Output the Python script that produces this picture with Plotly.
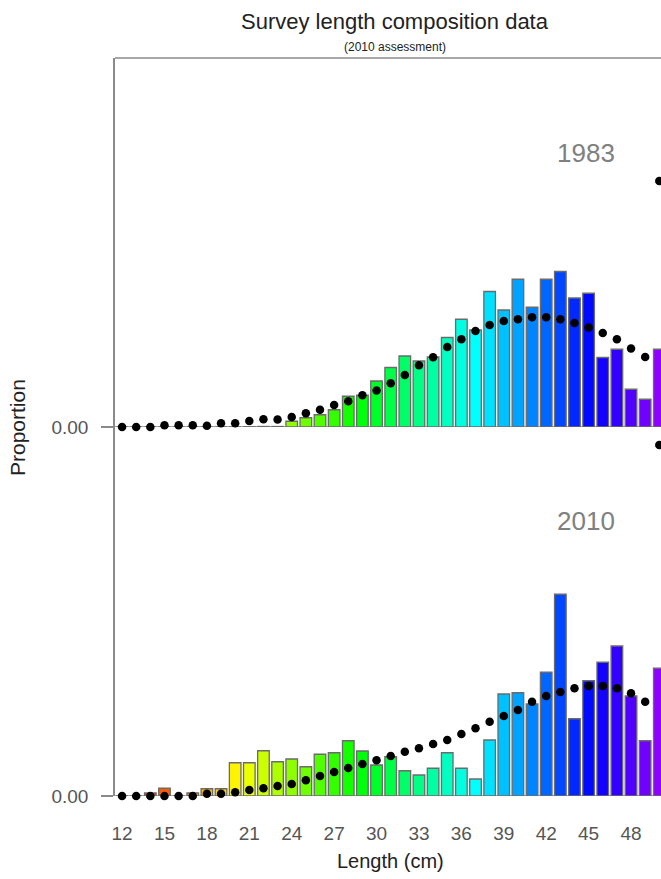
import colorsys
import plotly.graph_objects as go

# Length bins (cm); the last bin is the plus group
lengths = list(range(12, 51))

# 1983 survey: observed proportions (bars) and expected proportions (dots)
obs_1983 = [0, 0, 0, 0, 0, 0, 0, 0, 0, 0.0001, 0.0002, 0.0002, 0.0023, 0.0037,
            0.0049, 0.0069, 0.0123, 0.0127, 0.0184, 0.0238, 0.0284, 0.0264,
            0.0280, 0.0358, 0.0431, 0.0388, 0.0542, 0.0468, 0.0591, 0.0479,
            0.0591, 0.0622, 0.0516, 0.0535, 0.0278, 0.0311, 0.0151, 0.0111,
            0.0311]
exp_1983 = [0, 0, 0, 0.0007, 0.0007, 0.0007, 0.0005, 0.0015, 0.0015, 0.0024,
            0.0031, 0.0030, 0.0040, 0.0055, 0.0069, 0.0088, 0.0103, 0.0127,
            0.0146, 0.0175, 0.0208, 0.0247, 0.0279, 0.0320, 0.0351, 0.0384,
            0.0408, 0.0424, 0.0431, 0.0439, 0.0439, 0.0431, 0.0416, 0.0398,
            0.0376, 0.0351, 0.0314, 0.0280, 0.0984]

# 2010 survey
obs_2010 = [0, 0, 0.0012, 0.0031, 0, 0.0012, 0.0029, 0.0029, 0.0133, 0.0133,
            0.0181, 0.0137, 0.0148, 0.0117, 0.0167, 0.0173, 0.0221, 0.0180,
            0.0124, 0.0157, 0.0101, 0.0084, 0.0111, 0.0173, 0.0111, 0.0068,
            0.0224, 0.0408, 0.0413, 0.0368, 0.0495, 0.0807, 0.0309, 0.0461,
            0.0535, 0.0600, 0.0400, 0.0221, 0.0511]
exp_2010 = [0, 0, 0, 0, 0, 0, 0.0009, 0.0009, 0.0015, 0.0024, 0.0031, 0.0040,
            0.0048, 0.0063, 0.0080, 0.0096, 0.0112, 0.0128, 0.0143, 0.0160,
            0.0177, 0.0191, 0.0208, 0.0224, 0.0248, 0.0271, 0.0297, 0.0320,
            0.0344, 0.0377, 0.0400, 0.0416, 0.0431, 0.0440, 0.0440, 0.0431,
            0.0411, 0.0377, 0.1404]

years = ["1983", "2010"]
x_ticks = [12, 15, 18, 21, 24, 27, 30, 33, 36, 39, 42, 45, 48]

FONT = "Liberation Sans, Arial, sans-serif"
AXIS_GREY = "#8a8a8a"
Y_TOP = 0.1476


def bin_color(length):
    # rainbow palette stepping 7.2 degrees of hue per cm
    r, g, b = colorsys.hsv_to_rgb(((length - 12) * 7.2 / 360.0) % 1.0, 1, 1)
    return f"rgb({int(r * 255)},{int(g * 255)},{int(b * 255)})"


colors = [bin_color(L) for L in lengths]

fig = go.Figure()
panels = [("y", obs_1983, exp_1983), ("y2", obs_2010, exp_2010)]
for yref, obs, exp in panels:
    fig.add_trace(go.Bar(
        x=lengths, y=obs, yaxis=yref, xaxis="x", width=0.82,
        marker=dict(color=colors, line=dict(color="#6b6b6b", width=1.3)),
        showlegend=False, hoverinfo="x+y"))
for yref, obs, exp in panels:
    fig.add_trace(go.Scatter(
        x=lengths, y=exp, yaxis=yref, xaxis="x", mode="markers",
        marker=dict(color="black", size=8.5), cliponaxis=False,
        showlegend=False))

yaxis_common = dict(
    range=[0, Y_TOP], tickvals=[0], ticktext=["0.00"], ticks="outside",
    ticklen=12, tickcolor=AXIS_GREY, tickwidth=1.6, showgrid=False,
    zeroline=False, showline=True, linecolor=AXIS_GREY, linewidth=1.6,
    tickfont=dict(family=FONT, size=19, color="#555555"),
    ticklabelstandoff=9, fixedrange=True)

fig.update_layout(
    width=661, height=879,
    margin=dict(l=115, r=0, t=58, b=83),
    paper_bgcolor="white", plot_bgcolor="white",
    barmode="overlay",
    font=dict(family=FONT),
    xaxis=dict(range=[11.5, 50.12], anchor="y2", tickvals=x_ticks,
               ticks="", showgrid=False, zeroline=False, showline=False,
               tickfont=dict(family=FONT, size=19, color="#555555"),
               ticklabelstandoff=24),
    yaxis=dict(domain=[0.5, 1.0], **yaxis_common),
    yaxis2=dict(domain=[0.0, 0.5], **yaxis_common),
)

# frame: top edge and zero baselines of each panel
fig.add_shape(type="line", xref="paper", yref="paper", x0=0, x1=1, y0=1, y1=1,
              line=dict(color=AXIS_GREY, width=1.6))
for yref in ["y", "y2"]:
    fig.add_shape(type="line", xref="paper", yref=yref, x0=0, x1=1, y0=0, y1=0,
                  line=dict(color=AXIS_GREY, width=1.6), layer="below")

# titles and labels
fig.add_annotation(text="Survey length composition data", xref="paper",
                   yref="paper", x=0.513, y=(879 - 22 - 83) / 738.0,
                   showarrow=False, xanchor="center", yanchor="middle",
                   font=dict(family=FONT, size=22, color="#222222"))
fig.add_annotation(text="(2010 assessment)", xref="paper", yref="paper",
                   x=0.513, y=(879 - 47 - 83) / 738.0, showarrow=False,
                   xanchor="center", yanchor="middle",
                   font=dict(family=FONT, size=12, color="#222222"))
for label, ypix in zip(years, [153, 521]):
    fig.add_annotation(text=label, xref="paper", yref="paper",
                       x=(586 - 115) / 546.0, y=(796 - ypix) / 738.0,
                       showarrow=False, xanchor="center", yanchor="middle",
                       font=dict(family=FONT, size=26, color="#808080"))
fig.add_annotation(text="Length (cm)", xref="paper", yref="paper",
                   x=(390 - 115) / 546.0, y=(796 - 861) / 738.0,
                   showarrow=False, xanchor="center", yanchor="middle",
                   font=dict(family=FONT, size=20, color="#222222"))
fig.add_annotation(text="Proportion", xref="paper", yref="paper",
                   x=(18 - 115) / 546.0, y=(796 - 428) / 738.0,
                   showarrow=False, xanchor="center", yanchor="middle",
                   textangle=-90,
                   font=dict(family=FONT, size=21, color="#222222"))

fig.write_html("out.html")
